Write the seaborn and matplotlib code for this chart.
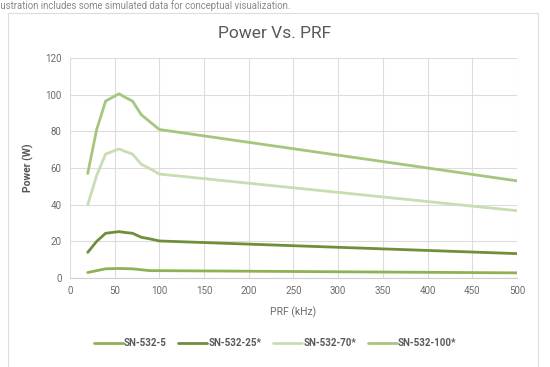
import numpy as np
import pandas as pd
import matplotlib.pyplot as plt
import seaborn as sns
from matplotlib.patches import Rectangle

# PRF points (kHz) and power (W) per model
prf = [20, 30, 40, 55, 62, 70, 80, 90, 100, 500]
sn_5 = [3.0, 4.0, 5.0, 5.2, 5.1, 5.0, 4.5, 4.0, 4.0, 2.8]
sn_25 = [14.0, 20.0, 24.4, 25.3, 24.8, 24.4, 22.2, 21.3, 20.2, 13.3]
sn_70 = [40.0, 56.0, 67.6, 70.4, 69.0, 67.6, 62.0, 59.5, 56.7, 36.7]
sn_100 = [57.0, 81.0, 96.5, 100.5, 98.5, 96.5, 89.0, 85.0, 81.0, 53.0]

series = ["SN-532-5", "SN-532-25*", "SN-532-70*", "SN-532-100*"]
colors = ["#8db255", "#6f8f3a", "#c8ddb2", "#a5c67f"]

df = pd.concat([
    pd.DataFrame({"PRF": prf, "Power": vals, "Model": name})
    for name, vals in zip(series, [sn_5, sn_25, sn_70, sn_100])
])

sns.set_style("white")
plt.rcParams["font.family"] = ["Roboto", "DejaVu Sans"]

fig = plt.figure(figsize=(5.5, 3.67), dpi=100)
ax = fig.add_axes([0.127, 0.2425, 0.813, 0.5995])

sns.lineplot(data=df, x="PRF", y="Power", hue="Model", palette=colors,
             hue_order=series, linewidth=2.0, ax=ax, legend=False)

ax.set_xlim(0, 500)
ax.set_ylim(0, 120)
ax.set_xticks(np.arange(0, 501, 50))
ax.set_yticks(np.arange(0, 121, 20))
ax.grid(True, color="#dcdcdc", linewidth=0.8)
ax.set_axisbelow(True)
for s in ["top", "right", "left"]:
    ax.spines[s].set_visible(False)
ax.spines["bottom"].set_color("#cfcfcf")
ax.tick_params(axis="both", length=0, labelsize=7, labelcolor="#6b6b6b", pad=6)
ax.set_xlabel("PRF (kHz)", fontsize=7.5, color="#6b6b6b", labelpad=7)
ax.set_ylabel("Power (W)", fontsize=7.5, color="#555555", fontweight="bold", labelpad=8)

fig.text(0.5, 0.91, "Power Vs. PRF", ha="center", va="center", fontsize=12.5, color="#595959")
# the caption is cut at the left edge, as in the source screenshot
fig.text(-0.013, 0.985, "Illustration includes some simulated data for conceptual visualization.",
         ha="left", va="center", fontsize=6.9, color="#8a8a8a")

fig.patches.append(Rectangle((8 / 550, -5 / 367), 530 / 550, 359 / 367, transform=fig.transFigure,
                             fill=False, edgecolor="#dddddd", linewidth=0.8))

handles = [plt.Line2D([0], [0], color=c, linewidth=2.0) for c in colors]
fig.legend(handles, series, loc="center", bbox_to_anchor=(0.5, 0.065), ncol=4, frameon=False,
           handlelength=3.0, columnspacing=1.2, handletextpad=0.1,
           prop={"weight": "bold", "size": 7})
for t in fig.legends[0].get_texts():
    t.set_color("#595959")

fig.savefig("out.png", dpi=100)
